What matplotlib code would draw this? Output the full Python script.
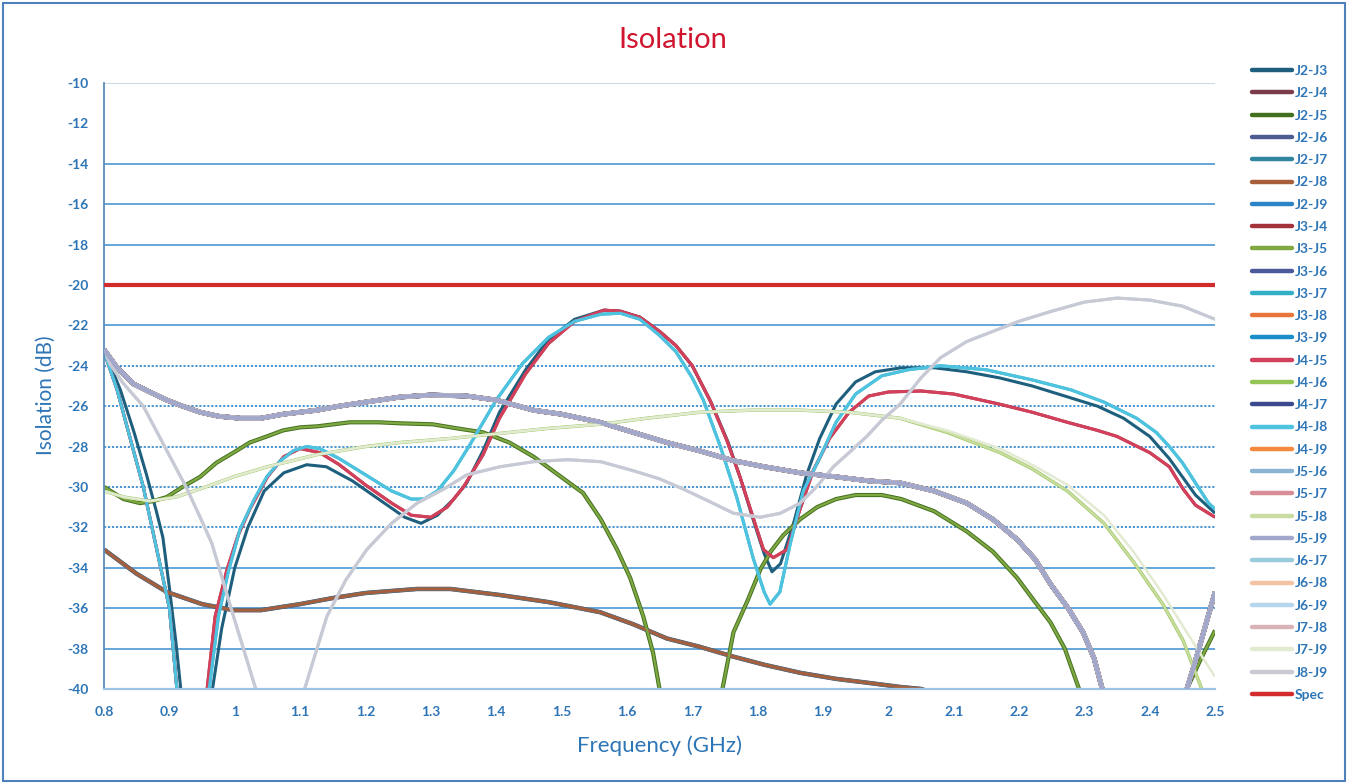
# Isolation vs frequency for all port pairs, plus the -20 dB spec line

import matplotlib.pyplot as plt
from matplotlib.lines import Line2D
from matplotlib.patches import Rectangle

# ────────────────────────────────────────────────────────────
# DATA
# ────────────────────────────────────────────────────────────

# resonant curve, dark teal variant
freq_a1 = [0.80, 0.825, 0.845, 0.865, 0.88, 0.89, 0.90, 0.91, 0.918, 0.94, 0.965, 0.98,
           1.00, 1.02, 1.045, 1.075, 1.11, 1.14, 1.18, 1.22, 1.26, 1.285, 1.31, 1.335,
           1.355, 1.38, 1.405, 1.445, 1.48, 1.52, 1.565, 1.59, 1.62, 1.65, 1.675, 1.70,
           1.73, 1.755, 1.775, 1.795, 1.81, 1.822, 1.835, 1.855, 1.875, 1.895, 1.92, 1.95,
           1.98, 2.02, 2.07, 2.12, 2.17, 2.22, 2.27, 2.32, 2.36, 2.40, 2.43, 2.45, 2.47,
           2.49, 2.50]
db_a1 = [-23.2, -25.2, -27.2, -29.4, -31.2, -32.5, -35.0, -37.7, -40.2, -48, -40.2, -37.0,
         -34.0, -32.0, -30.2, -29.3, -28.9, -29.0, -29.7, -30.6, -31.5, -31.8, -31.4, -30.6,
         -29.8, -28.2, -26.3, -24.2, -22.7, -21.7, -21.25, -21.3, -21.6, -22.3, -23.0, -24.0,
         -25.9, -27.8, -29.7, -31.8, -33.3, -34.2, -33.8, -31.8, -29.4, -27.6, -25.9, -24.8,
         -24.3, -24.1, -24.1, -24.3, -24.6, -25.0, -25.5, -26.0, -26.6, -27.5, -28.6, -29.5,
         -30.4, -31.0, -31.3]

# resonant curve, red variant
freq_a2 = [0.80, 0.82, 0.84, 0.86, 0.88, 0.90, 0.912, 0.935, 0.957, 0.97, 0.988, 1.005,
           1.023, 1.05, 1.075, 1.10, 1.13, 1.16, 1.20, 1.24, 1.27, 1.30, 1.325, 1.35,
           1.38, 1.405, 1.445, 1.48, 1.52, 1.565, 1.59, 1.62, 1.65, 1.675, 1.70, 1.727,
           1.753, 1.773, 1.793, 1.809, 1.824, 1.845, 1.865, 1.885, 1.91, 1.94, 1.97, 2.00,
           2.05, 2.10, 2.17, 2.22, 2.274, 2.32, 2.35, 2.40, 2.43, 2.451, 2.47, 2.49, 2.50]
db_a2 = [-23.3, -25.2, -27.6, -30.0, -33.0, -36.0, -40.2, -48, -40.2, -36.4, -34.1, -32.4,
         -31.1, -29.5, -28.5, -28.1, -28.3, -28.9, -29.9, -30.8, -31.4, -31.5, -31.0, -30.0,
         -28.4, -26.6, -24.4, -22.9, -21.8, -21.25, -21.3, -21.6, -22.3, -23.0, -24.0, -25.7,
         -27.7, -29.5, -31.5, -33.1, -33.5, -33.1, -31.1, -29.2, -27.6, -26.3, -25.5, -25.3,
         -25.25, -25.4, -25.9, -26.3, -26.8, -27.2, -27.5, -28.3, -29.0, -30.1, -30.9, -31.3,
         -31.5]

# resonant curve, cyan variant
freq_a3 = [0.80, 0.82, 0.84, 0.86, 0.88, 0.90, 0.912, 0.935, 0.96, 0.975, 0.99, 1.008,
           1.03, 1.049, 1.07, 1.09, 1.11, 1.13, 1.16, 1.20, 1.24, 1.27, 1.29, 1.31, 1.335,
           1.36, 1.38, 1.40, 1.44, 1.48, 1.52, 1.56, 1.59, 1.62, 1.65, 1.675, 1.70, 1.717,
           1.743, 1.768, 1.793, 1.81, 1.819, 1.834, 1.85, 1.87, 1.896, 1.92, 1.95, 1.99,
           2.03, 2.08, 2.15, 2.22, 2.28, 2.33, 2.38, 2.41, 2.43, 2.45, 2.47, 2.49, 2.50]
db_a3 = [-23.3, -25.2, -27.6, -30.0, -33.0, -36.0, -40.2, -48, -40.2, -36.4, -34.2, -32.1,
         -30.6, -29.5, -28.7, -28.2, -28.0, -28.1, -28.6, -29.4, -30.2, -30.6, -30.6, -30.2,
         -29.2, -27.9, -26.8, -25.7, -23.9, -22.6, -21.8, -21.45, -21.4, -21.7, -22.5, -23.3,
         -24.6, -25.7, -28.0, -30.5, -33.5, -35.2, -35.8, -35.2, -32.8, -30.2, -28.5, -26.8,
         -25.4, -24.5, -24.2, -24.0, -24.2, -24.7, -25.2, -25.8, -26.6, -27.3, -28.0, -28.8,
         -29.8, -30.8, -31.1]

# green curve with two nulls
freq_b = [0.80, 0.83, 0.855, 0.875, 0.896, 0.92, 0.947, 0.972, 0.998, 1.023, 1.049, 1.074,
          1.10, 1.126, 1.176, 1.22, 1.253, 1.303, 1.34, 1.38, 1.42, 1.457, 1.495, 1.533,
          1.56, 1.585, 1.605, 1.625, 1.64, 1.651, 1.70, 1.745, 1.763, 1.785, 1.804, 1.82,
          1.839, 1.865, 1.891, 1.92, 1.95, 1.99, 2.02, 2.07, 2.12, 2.16, 2.197, 2.22, 2.248,
          2.27, 2.294, 2.34, 2.40, 2.454, 2.477, 2.50]
db_b = [-30.0, -30.6, -30.8, -30.7, -30.5, -30.0, -29.5, -28.8, -28.3, -27.8, -27.5, -27.2,
        -27.05, -27.0, -26.8, -26.8, -26.85, -26.9, -27.1, -27.3, -27.8, -28.5, -29.4, -30.3,
        -31.6, -33.1, -34.5, -36.4, -38.2, -40.2, -50, -40.2, -37.2, -35.6, -34.1, -33.2,
        -32.4, -31.6, -31.0, -30.6, -30.4, -30.4, -30.6, -31.2, -32.2, -33.2, -34.5, -35.5,
        -36.7, -38.0, -40.2, -45, -45, -40.2, -38.6, -37.1]

# thick grey-blue bundle (many pairs on top of each other)
freq_c = [0.80, 0.82, 0.845, 0.87, 0.896, 0.92, 0.947, 0.975, 1.008, 1.04, 1.074, 1.10,
          1.126, 1.16, 1.20, 1.253, 1.30, 1.355, 1.40, 1.457, 1.50, 1.559, 1.61, 1.661,
          1.71, 1.763, 1.81, 1.865, 1.92, 1.97, 2.018, 2.07, 2.12, 2.16, 2.197, 2.225,
          2.248, 2.275, 2.298, 2.315, 2.329, 2.40, 2.455, 2.47, 2.50]
db_c = [-23.2, -24.1, -24.9, -25.3, -25.7, -26.0, -26.3, -26.5, -26.6, -26.6, -26.4, -26.3,
        -26.2, -26.0, -25.8, -25.55, -25.45, -25.5, -25.7, -26.2, -26.4, -26.8, -27.3, -27.8,
        -28.2, -28.7, -29.0, -29.3, -29.5, -29.7, -29.8, -30.2, -30.8, -31.6, -32.6, -33.6,
        -34.8, -36.0, -37.2, -38.5, -40.2, -45, -40.2, -38.6, -35.2]

# brown curve
freq_d = [0.80, 0.85, 0.896, 0.95, 0.998, 1.04, 1.10, 1.15, 1.20, 1.279, 1.33, 1.406,
          1.48, 1.559, 1.61, 1.661, 1.71, 1.763, 1.81, 1.865, 1.92, 1.97, 2.018, 2.05, 2.08]
db_d = [-33.1, -34.3, -35.2, -35.8, -36.1, -36.1, -35.8, -35.5, -35.25, -35.05, -35.05,
        -35.35, -35.7, -36.2, -36.8, -37.5, -37.9, -38.4, -38.8, -39.2, -39.5, -39.7, -39.9,
        -40.0, -40.3]

# slowly rising light green / cream curves
freq_e = [0.80, 0.83, 0.87, 0.91, 0.947, 0.998, 1.05, 1.126, 1.20, 1.253, 1.33, 1.406,
          1.48, 1.559, 1.63, 1.712, 1.79, 1.865, 1.94, 2.018, 2.09, 2.171, 2.22, 2.274,
          2.33, 2.375, 2.42, 2.451, 2.482, 2.50]
db_e_green = [-30.2, -30.5, -30.7, -30.5, -30.1, -29.5, -29.0, -28.4, -28.0, -27.8, -27.6,
              -27.35, -27.1, -26.9, -26.6, -26.3, -26.2, -26.2, -26.3, -26.6, -27.3, -28.3,
              -29.1, -30.2, -31.8, -33.7, -35.8, -37.6, -40.2, -42]
db_e_cream = [-30.2, -30.5, -30.7, -30.5, -30.1, -29.5, -29.0, -28.4, -28.0, -27.8, -27.6,
              -27.35, -27.1, -26.9, -26.6, -26.3, -26.2, -26.2, -26.3, -26.6, -27.2, -28.1,
              -28.9, -29.9, -31.4, -33.2, -35.3, -36.9, -38.5, -39.4]

# light grey curve
freq_f = [0.80, 0.809, 0.83, 0.86, 0.896, 0.927, 0.947, 0.965, 0.998, 1.034, 1.07, 1.105,
          1.141, 1.17, 1.202, 1.24, 1.279, 1.32, 1.355, 1.406, 1.457, 1.51, 1.56, 1.61,
          1.65, 1.686, 1.725, 1.763, 1.804, 1.835, 1.865, 1.89, 1.916, 1.94, 1.967, 1.99,
          2.018, 2.05, 2.08, 2.12, 2.16, 2.20, 2.25, 2.30, 2.35, 2.40, 2.45, 2.50]
db_f = [-23.2, -23.9, -24.9, -26.0, -28.2, -30.1, -31.5, -32.8, -36.4, -40.2, -45, -40.2,
        -36.4, -34.6, -33.1, -31.8, -30.8, -30.1, -29.4, -29.0, -28.75, -28.65, -28.75,
        -29.2, -29.6, -30.1, -30.7, -31.3, -31.5, -31.3, -30.8, -30.0, -29.0, -28.3, -27.5,
        -26.7, -25.9, -24.6, -23.6, -22.8, -22.3, -21.8, -21.3, -20.85, -20.65, -20.75,
        -21.05, -21.7]

spec_freq = [0.80, 2.50]
spec_db = [-20, -20]

series_names = ["J2-J3", "J2-J4", "J2-J5", "J2-J6", "J2-J7", "J2-J8", "J2-J9",
                "J3-J4", "J3-J5", "J3-J6", "J3-J7", "J3-J8", "J3-J9",
                "J4-J5", "J4-J6", "J4-J7", "J4-J8", "J4-J9",
                "J5-J6", "J5-J7", "J5-J8", "J5-J9",
                "J6-J7", "J6-J8", "J6-J9",
                "J7-J8", "J7-J9", "J8-J9"]

curves = {
    "J2-J3": (freq_a1, db_a1), "J2-J4": (freq_d, db_d), "J2-J5": (freq_b, db_b),
    "J2-J6": (freq_c, db_c), "J2-J7": (freq_d, db_d), "J2-J8": (freq_d, db_d),
    "J2-J9": (freq_c, db_c), "J3-J4": (freq_a2, db_a2), "J3-J5": (freq_b, db_b),
    "J3-J6": (freq_c, db_c), "J3-J7": (freq_a3, db_a3), "J3-J8": (freq_c, db_c),
    "J3-J9": (freq_c, db_c), "J4-J5": (freq_a2, db_a2), "J4-J6": (freq_e, db_e_green),
    "J4-J7": (freq_c, db_c), "J4-J8": (freq_a3, db_a3), "J4-J9": (freq_c, db_c),
    "J5-J6": (freq_c, db_c), "J5-J7": (freq_c, db_c), "J5-J8": (freq_e, db_e_green),
    "J5-J9": (freq_c, db_c), "J6-J7": (freq_c, db_c), "J6-J8": (freq_c, db_c),
    "J6-J9": (freq_f, db_f), "J7-J8": (freq_c, db_c), "J7-J9": (freq_e, db_e_cream),
    "J8-J9": (freq_f, db_f),
}

x_ticks = [0.8, 0.9, 1.0, 1.1, 1.2, 1.3, 1.4, 1.5, 1.6, 1.7, 1.8, 1.9,
           2.0, 2.1, 2.2, 2.3, 2.4, 2.5]
x_labels = ["0.8", "0.9", "1", "1.1", "1.2", "1.3", "1.4", "1.5", "1.6", "1.7", "1.8",
            "1.9", "2", "2.1", "2.2", "2.3", "2.4", "2.5"]
y_ticks = [-40, -38, -36, -34, -32, -30, -28, -26, -24, -22, -20, -18, -16, -14, -12, -10]

# ────────────────────────────────────────────────────────────
# STYLE
# ────────────────────────────────────────────────────────────

colors = {
    "J2-J3": "#1D5F7D", "J2-J4": "#7B3B4B", "J2-J5": "#43701F", "J2-J6": "#4E5C94",
    "J2-J7": "#2F869E", "J2-J8": "#A85E3A", "J2-J9": "#2B84C6", "J3-J4": "#A3323A",
    "J3-J5": "#7FA843", "J3-J6": "#4B5A99", "J3-J7": "#33AFC8", "J3-J8": "#E8763A",
    "J3-J9": "#1B8DC8", "J4-J5": "#D2405C", "J4-J6": "#96C456", "J4-J7": "#3A4A8C",
    "J4-J8": "#4EC3E0", "J4-J9": "#F58A3E", "J5-J6": "#8AB4D2", "J5-J7": "#D88E96",
    "J5-J8": "#C9DDA0", "J5-J9": "#A2A8CC", "J6-J7": "#98CCDC", "J6-J8": "#F3C3A3",
    "J6-J9": "#B6D6EE", "J7-J8": "#D8B4B8", "J7-J9": "#E2EBD2", "J8-J9": "#C9C9D4",
}
spec_color = "#D22B2B"

widths = {
    "J2-J4": 3.2, "J2-J7": 2.8, "J2-J5": 3.0, "J3-J5": 1.6,
    "J4-J7": 3.5, "J2-J6": 3.4, "J2-J9": 3.3, "J3-J6": 3.3, "J3-J8": 3.3, "J3-J9": 3.3,
    "J4-J9": 3.3, "J5-J6": 3.2, "J5-J7": 3.2, "J6-J7": 3.1, "J6-J8": 3.0,
    "J7-J8": 2.6, "J5-J9": 3.0, "J5-J8": 1.6, "J4-J6": 2.4, "J7-J9": 1.8,
}
orders = {"J5-J9": 2.6}

text_blue = "#2E75B6"
grid_blue = "#3A8ED0"

plt.rcParams["font.family"] = ["Lato", "DejaVu Sans"]

# ────────────────────────────────────────────────────────────
# PLOT
# ────────────────────────────────────────────────────────────

fig = plt.figure(figsize=(13.48, 7.83), dpi=100)
ax = fig.add_axes([0.0772, 0.1201, 0.8242, 0.7740])

# grid lines: solid at top/bottom, dotted in the middle band
for lvl in [-38, -36, -34, -22, -18, -16, -14]:
    ax.axhline(lvl, color=grid_blue, lw=1.1, zorder=1)
for lvl in [-32, -30, -28, -26, -24]:
    ax.axhline(lvl, color=grid_blue, lw=1.3, ls=(0, (1.2, 1.0)), zorder=1)
ax.axhline(-10, color="#BCD3E6", lw=1.2, zorder=1)

for name in series_names:
    f, v = curves[name]
    ax.plot(f, v, color=colors[name], lw=widths.get(name, 2.2),
            zorder=orders.get(name, 2), solid_capstyle="butt",
            solid_joinstyle="round")

ax.plot(spec_freq, spec_db, color=spec_color, lw=3.0, zorder=4)

ax.set_xlim(0.8, 2.5)
ax.set_ylim(-40, -10)
ax.set_xticks(x_ticks)
ax.set_xticklabels(x_labels)
ax.set_yticks(y_ticks)
ax.set_yticklabels([str(t) for t in y_ticks])
ax.tick_params(length=0, labelsize=10, labelcolor=text_blue)
ax.tick_params(axis="x", pad=12)
ax.tick_params(axis="y", pad=11)
for lab in ax.get_xticklabels() + ax.get_yticklabels():
    lab.set_fontweight("bold")

for side in ["top", "right"]:
    ax.spines[side].set_visible(False)
ax.spines["left"].set_color("#5B8DB8")
ax.spines["left"].set_linewidth(1.3)
ax.spines["bottom"].set_color("#9DC3E6")
ax.spines["bottom"].set_linewidth(1.6)

# titles
fig.text(0.499, 0.949, "Isolation", color="#D0162E", fontsize=21,
         ha="center", va="center")
fig.text(0.489, 0.048, "Frequency (GHz)", color=text_blue, fontsize=16,
         ha="center", va="center")
fig.text(0.034, 0.495, "Isolation (dB)", color=text_blue, fontsize=15,
         ha="center", va="center", rotation=90)

# legend
handles = [Line2D([], [], color=colors[n], lw=3.2, solid_capstyle="round")
           for n in series_names]
handles.append(Line2D([], [], color=spec_color, lw=3.2, solid_capstyle="round"))
labels = series_names + ["Spec"]

fig.legend(handles, labels, loc="upper left",
           bbox_to_anchor=(1252 / 1348, 1 - 65 / 783),
           frameon=False, borderpad=0, borderaxespad=0,
           handlelength=2.9, handletextpad=0.2, labelspacing=0.74,
           prop={"size": 10, "weight": "bold"}, labelcolor=text_blue)

# outer chart border
fig.patches.append(Rectangle((0.002, 0.002), 0.996, 0.994, transform=fig.transFigure,
                             fill=False, edgecolor="#4F81BD", lw=1.5))

fig.savefig("out.png", dpi=100)
plt.close(fig)
